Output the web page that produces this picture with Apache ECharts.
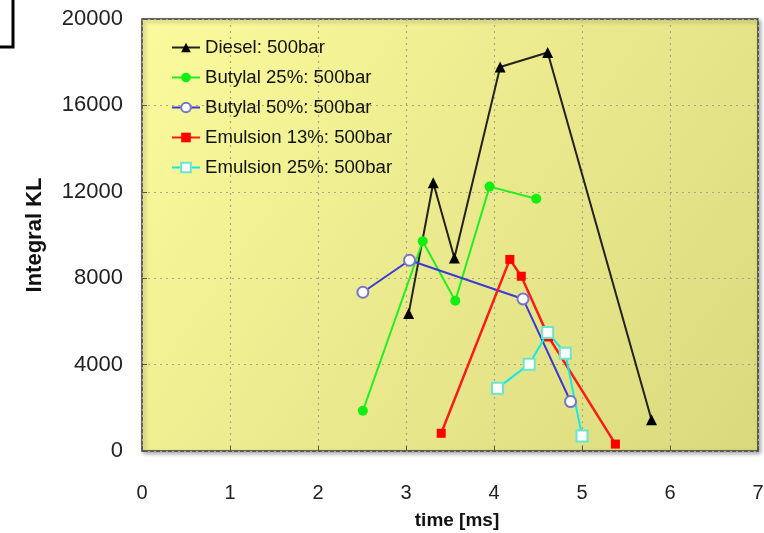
<!DOCTYPE html>
<html><head><meta charset="utf-8">
<script src="https://cdn.jsdelivr.net/npm/echarts@6/dist/echarts.min.js"></script>
<style>html,body{margin:0;padding:0;background:#fff}#c{width:764px;height:533px}</style>
</head><body><div id="c"></div>
<script>
const seriesNames = ['Diesel: 500bar','Butylal 25%: 500bar','Butylal 50%: 500bar','Emulsion 13%: 500bar','Emulsion 25%: 500bar'];
const dieselX = [3.03, 3.31, 3.55, 4.07, 4.61, 5.79];
const dieselY = [6360, 12420, 8940, 17780, 18450, 1450];
const but25X = [2.51, 3.19, 3.56, 3.95, 4.48];
const but25Y = [1860, 9710, 6960, 12240, 11680];
const but50X = [2.51, 3.04, 4.33, 4.87];
const but50Y = [7350, 8830, 7040, 2290];
const emu13X = [3.40, 4.18, 4.31, 4.62, 5.38];
const emu13Y = [820, 8870, 8090, 5280, 320];
const emu25X = [4.04, 4.40, 4.61, 4.81, 5.00];
const emu25Y = [2910, 4020, 5490, 4530, 700];
const xTicks = [0,1,2,3,4,5,6,7];
const yTicks = [0,4000,8000,12000,16000,20000];

function pts(xs, ys){ return xs.map((x,i)=>[x, ys[i]]); }
const chart = echarts.init(document.getElementById('c'));
const FONT = '"Liberation Sans", Arial, sans-serif';
chart.setOption({
  animation:false,
  textStyle:{fontFamily:FONT},
  grid:{left:142,right:6,top:19,bottom:82,show:true,outerBoundsMode:'none',containLabel:false,
    borderColor:'#3a3a3a',borderWidth:1.5,
    shadowColor:'rgba(0,0,0,0.35)',shadowBlur:4,shadowOffsetX:2,shadowOffsetY:2,
    backgroundColor:new echarts.graphic.LinearGradient(0,0,1,1,[{offset:0,color:'#fbfa9c'},{offset:1,color:'#d9d97e'}])},
  graphic:[{type:'polyline',shape:{points:[[13,0],[13,47],[0,47]]},style:{stroke:'#000',lineWidth:3,fill:null}}],
  legend:{orient:'vertical',left:166,top:33,itemGap:11,itemWidth:28,itemHeight:12,
    data:seriesNames,textStyle:{fontSize:18.6,lineHeight:18,color:'#111',fontFamily:FONT}},
  xAxis:{type:'value',min:xTicks[0],max:xTicks[xTicks.length-1],interval:1,
    name:'time [ms]',nameLocation:'middle',nameGap:60,
    nameTextStyle:{fontSize:19,fontWeight:'bold',color:'#111',padding:[0,0,0,14]},
    axisLine:{show:false},axisTick:{show:true,inside:true,length:5,lineStyle:{color:'#555'}},
    axisLabel:{fontSize:20,color:'#222',margin:32},
    splitLine:{show:true,lineStyle:{color:'#a9a98a',type:[2,4],width:1.2}}},
  yAxis:{type:'value',min:yTicks[0],max:yTicks[yTicks.length-1],interval:4000,
    name:'Integral KL',nameLocation:'middle',nameGap:96,
    nameTextStyle:{fontSize:22,fontWeight:'bold',color:'#111'},
    axisLine:{show:false},axisTick:{show:true,inside:true,length:5,lineStyle:{color:'#555'}},
    axisLabel:{fontSize:22,color:'#222',margin:19,formatter:v=>String(v)},
    splitLine:{show:true,lineStyle:{color:'#a9a98a',type:[2,4],width:1.2}}},
  series:[
    {name:seriesNames[0],type:'line',data:pts(dieselX,dieselY),symbol:'triangle',symbolSize:11,
      lineStyle:{color:'#222',width:2},itemStyle:{color:'#000'}},
    {name:seriesNames[1],type:'line',data:pts(but25X,but25Y),symbol:'circle',symbolSize:10,
      lineStyle:{color:'#22ee22',width:2},itemStyle:{color:'#11ee11'}},
    {name:seriesNames[2],type:'line',data:pts(but50X,but50Y),symbol:'emptyCircle',symbolSize:11,
      lineStyle:{color:'#3a3ad6',width:2},itemStyle:{color:'#7676cc',borderWidth:1.3}},
    {name:seriesNames[3],type:'line',data:pts(emu13X,emu13Y),symbol:'rect',symbolSize:9,
      lineStyle:{color:'#ff1a1a',width:2.5},itemStyle:{color:'#ff0000'}},
    {name:seriesNames[4],type:'line',data:pts(emu25X,emu25Y),symbol:'emptyRect',symbolSize:11,
      lineStyle:{color:'#14e8e8',width:2},itemStyle:{color:'#6ae6d0',borderWidth:1.3}}
  ]
});
</script></body></html>
